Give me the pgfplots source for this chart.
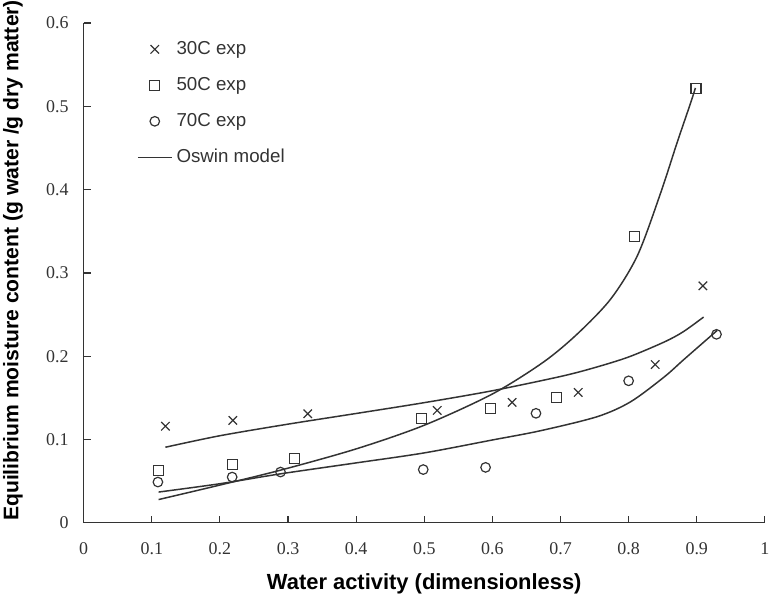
\documentclass[border=0pt]{standalone}
\usepackage{fontspec}
\setmainfont{Liberation Serif}
\newfontfamily\hv{Liberation Sans}
\usepackage{pgfplots}
\pgfplotsset{compat=1.18}
\definecolor{ink}{HTML}{333333}
\begin{document}
\begin{tikzpicture}
\begin{axis}[name=ax, scale only axis, width=342pt, height=251pt,
  xmin=0, xmax=1, ymin=0, ymax=0.6,
  axis x line=bottom, axis y line=left,
  axis line style={-, ink, line width=0.6pt},
  hide obscured x ticks=false, hide obscured y ticks=false,
  tick align=inside, major tick length=3.5pt,
  tick style={ink, line width=0.6pt},
  xtick={0,0.1,0.2,0.3,0.4,0.5,0.6,0.7,0.8,0.9,1},
  xticklabels={0,0.1,0.2,0.3,0.4,0.5,0.6,0.7,0.8,0.9,1},
  ytick={0,0.1,0.2,0.3,0.4,0.5,0.6},
  yticklabels={0,0.1,0.2,0.3,0.4,0.5,0.6},
  ticklabel style={font=\fontsize{9}{10}\selectfont, text=ink},
  xticklabel style={yshift=-6.5pt},
  yticklabel style={xshift=-4pt},
  xlabel={\hv\bfseries Water activity (dimensionless)},
  ylabel={\hv\bfseries Equilibrium moisture content (g water /g dry matter)},
  xlabel style={font=\fontsize{11}{12}\selectfont, inner sep=0pt, at={(axis description cs:0.5,0)}, anchor=center, yshift=-30.5pt},
  ylabel style={font=\fontsize{10.6}{12}\selectfont, inner sep=0pt, at={(axis description cs:0,0.525)}, anchor=center, yshift=35.5pt},
  legend style={draw=none, fill=none, at={(axis description cs:0.069,0.98)}, anchor=north west,
    font=\hv\fontsize{9.4}{10}\selectfont, row sep=6pt, text=ink},
  legend cell align=left,
]
\addplot[only marks, mark=x, mark size=3pt, ink, line width=0.6pt] coordinates {
 (0.12,0.116) (0.219,0.123) (0.329,0.131) (0.519,0.135) (0.629,0.1446) (0.726,0.1566) (0.839,0.190) (0.909,0.2845)};
\addlegendentry{30C exp}
\addplot[only marks, mark=square, mark size=2.5pt, ink, line width=0.6pt] coordinates {
 (0.110,0.0625) (0.218,0.0705) (0.309,0.077) (0.496,0.1257) (0.597,0.1374) (0.694,0.1506) (0.809,0.3434) (0.899,0.5215)};
\addlegendentry{50C exp}
\addplot[only marks, mark=o, mark size=2.4pt, ink, line width=0.6pt] coordinates {
 (0.109,0.049) (0.218,0.055) (0.289,0.061) (0.4985,0.064) (0.590,0.0666) (0.664,0.1315) (0.800,0.1705) (0.929,0.2263)};
\addlegendentry{70C exp}
\addplot[no marks, smooth, ink, line width=0.75pt] coordinates {
 (0.12,0.0908) (0.2,0.1046) (0.3,0.1185) (0.4,0.1313) (0.5,0.1443) (0.6,0.1586) (0.7,0.1757) (0.75,0.1863) (0.8,0.1991) (0.852,0.2170) (0.88,0.2293) (0.91,0.2470)};
\addlegendentry{Oswin model}
\addplot[no marks, smooth, ink, line width=0.75pt, forget plot] coordinates {
 (0.11,0.028) (0.2,0.0454) (0.29,0.0635) (0.4,0.0888) (0.5,0.1172) (0.6,0.1547) (0.675,0.193) (0.725,0.227) (0.774,0.269) (0.813,0.321) (0.847,0.396) (0.871,0.456) (0.891,0.504) (0.898,0.522)};
\addplot[no marks, smooth, ink, line width=0.75pt, forget plot] coordinates {
 (0.11,0.037) (0.2,0.047) (0.29,0.059) (0.4,0.072) (0.5,0.084) (0.6,0.0995) (0.67,0.1105) (0.754,0.1275) (0.803,0.1454) (0.852,0.175) (0.881,0.196) (0.93,0.231)};
\end{axis}
\path ([xshift=-42pt,yshift=-38pt]ax.south west) rectangle ([xshift=4pt,yshift=11.5pt]ax.north east);
\end{tikzpicture}
\end{document}
